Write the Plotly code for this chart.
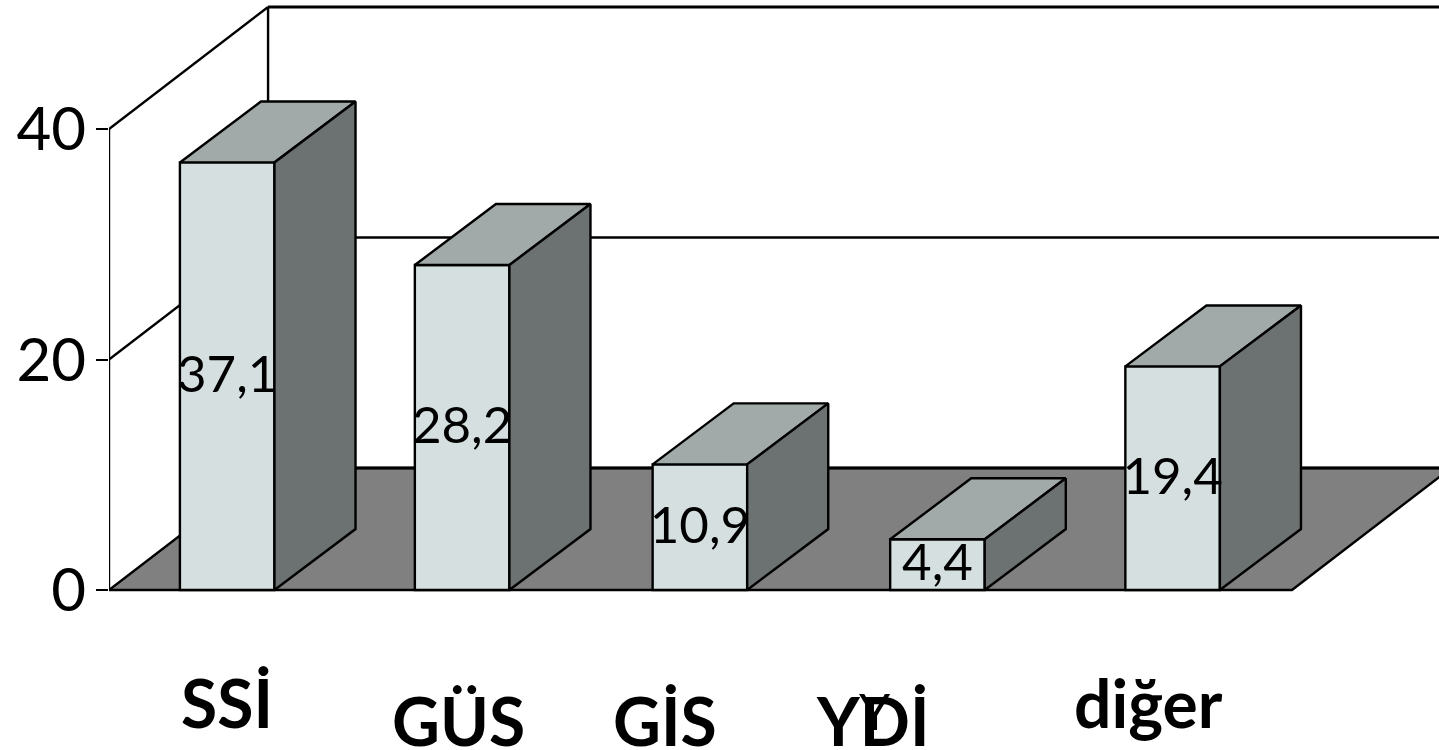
import plotly.graph_objects as go

# Chart data
categories = ["SSİ", "GÜS", "GİS", "YDİ", "diğer"]
values = [37.1, 28.2, 10.9, 4.4, 19.4]
y_ticks = [0, 20, 40]

# Typography and palette
FONT = "Comic Sans MS, Lato, sans-serif"
FRONT, TOP, SIDE, FLOOR = "#D6DFE0", "#A1AAA8", "#6C7271", "#808080"
INK = "#000000"
STROKE = 2.4

# Oblique projection: depth expressed in axis units
BAR_WIDTH = 0.40
BAR_DX, BAR_DY = 0.343, 5.29
ROOM_DX, ROOM_DY = 0.673, 10.59
X_LEFT, X_FLOOR_END = -0.5, 4.505
X_MAX = 5.127
Y_MIN, Y_MAX = -13.883, 51.193
Y_TOP = y_ticks[-1]

fig = go.Figure()
bar_x = [0, 0.994, 2.0, 3.005, 4.0]

# Front faces
fig.add_trace(go.Bar(
    x=bar_x, y=values, width=BAR_WIDTH,
    marker=dict(color=FRONT, line=dict(color=INK, width=STROKE)),
    hoverinfo="skip", showlegend=False,
))

# Top and side faces, derived from each bar's value
for x, v in zip(bar_x, values):
    l, r = x - BAR_WIDTH / 2, x + BAR_WIDTH / 2
    fig.add_trace(go.Scatter(
        x=[l, r, r + BAR_DX, l + BAR_DX, l],
        y=[v, v, v + BAR_DY, v + BAR_DY, v],
        mode="lines", fill="toself", fillcolor=TOP,
        line=dict(color=INK, width=STROKE), hoverinfo="skip", showlegend=False,
    ))
    fig.add_trace(go.Scatter(
        x=[r, r + BAR_DX, r + BAR_DX, r, r],
        y=[0, BAR_DY, v + BAR_DY, v, 0],
        mode="lines", fill="toself", fillcolor=SIDE,
        line=dict(color=INK, width=STROKE), hoverinfo="skip", showlegend=False,
    ))

# Value labels at mid height of each bar
LABEL_DROP = 0.25
fig.add_trace(go.Scatter(
    x=bar_x, y=[v / 2 - LABEL_DROP for v in values],
    text=[f"{v}".replace(".", ",") for v in values],
    mode="text", textposition="middle center",
    textfont=dict(family=FONT, size=51, color=INK),
    hoverinfo="skip", showlegend=False,
))


def segment(x0, y0, x1, y1, width=STROKE):
    return dict(type="line", xref="x", yref="y", x0=x0, y0=y0, x1=x1, y1=y1,
                layer="below", line=dict(color=INK, width=width))


shapes = [
    # Floor
    dict(type="path", xref="x", yref="y", layer="below",
         path=(f"M {X_LEFT} 0 L {X_FLOOR_END} 0 "
               f"L {X_FLOOR_END + ROOM_DX} {ROOM_DY} L {X_LEFT + ROOM_DX} {ROOM_DY} Z"),
         fillcolor=FLOOR, line=dict(color=INK, width=STROKE)),
    # Side wall and back wall edges
    segment(X_LEFT, 0, X_LEFT, Y_TOP),
    segment(X_LEFT + ROOM_DX, ROOM_DY, X_LEFT + ROOM_DX, Y_TOP + ROOM_DY),
    segment(X_LEFT + ROOM_DX, ROOM_DY, X_MAX, ROOM_DY, 3),
    segment(X_LEFT + ROOM_DX, Y_TOP + ROOM_DY, X_MAX, Y_TOP + ROOM_DY, 3),
]
# Gridlines running along the side wall and across the back wall
for t in y_ticks[1:]:
    shapes.append(segment(X_LEFT, t, X_LEFT + ROOM_DX, t + ROOM_DY))
for t in y_ticks[1:-1]:
    shapes.append(segment(X_LEFT + ROOM_DX, t + ROOM_DY, X_MAX, t + ROOM_DY))

# Category labels sit on a staggered baseline below the floor
label_x = [0.0, 0.977, 1.853, 2.733, 3.9]
label_y = [-9.76, -11.28, -11.28, -11.28, -9.8]
annotations = [
    dict(x=x, y=y, xref="x", yref="y", text=f"<b>{c}</b>", showarrow=False,
         font=dict(family=FONT, size=66, color=INK), xanchor="center", yanchor="middle")
    for c, x, y in zip(categories, label_x, label_y)
]
# A second Y struck over the D in the fourth label
annotations.append(dict(x=2.741, y=-10.5, xref="x", yref="y", text="Y", showarrow=False,
                        font=dict(family=FONT, size=50, color=INK),
                        xanchor="center", yanchor="middle"))

fig.update_layout(
    width=1439, height=750,
    margin=dict(l=0, r=0, t=0, b=0),
    paper_bgcolor="white", plot_bgcolor="white",
    showlegend=False, shapes=shapes, annotations=annotations,
    xaxis=dict(domain=[109 / 1439, 1], range=[X_LEFT, X_MAX], visible=False, fixedrange=True),
    yaxis=dict(range=[Y_MIN, Y_MAX], tickmode="array", tickvals=y_ticks, ticks="outside",
               ticklen=12, tickwidth=STROKE, tickcolor=INK, showgrid=False, zeroline=False,
               showline=False, ticklabelstandoff=-2, fixedrange=True,
               tickfont=dict(family=FONT, size=60, color=INK)),
)

fig.write_html("out.html", config={"displayModeBar": False})
